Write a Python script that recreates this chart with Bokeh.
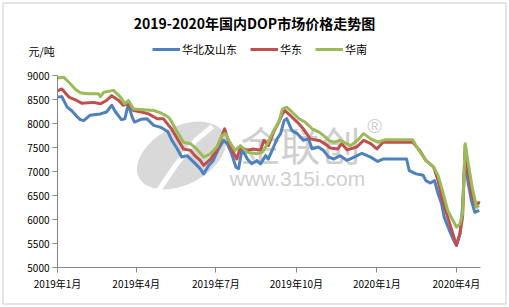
import pandas as pd
from bokeh.plotting import figure
from bokeh.models import (Range1d, FixedTicker, CustomJSTickFormatter, Label, Legend,
                          LegendItem, BoxAnnotation)
from bokeh.embed import file_html
from bokeh.resources import INLINE

# ---------------- data ----------------
title_text = "2019-2020年国内DOP市场价格走势图"
unit_text = "元/吨"
series_names = ["华北及山东", "华东", "华南"]
series_colors = ["#4F81BD", "#C0504D", "#9BBB59"]

tick_dates = ["2019-01-01", "2019-04-01", "2019-07-01", "2019-10-01", "2020-01-01", "2020-04-01"]
y_ticks = [5000, 5500, 6000, 6500, 7000, 7500, 8000, 8500, 9000]

north_dates = ["2019-01-01", "2019-01-06", "2019-01-12", "2019-01-17", "2019-01-23", "2019-01-27", "2019-01-31",
               "2019-02-07", "2019-02-19", "2019-02-26", "2019-03-04", "2019-03-08", "2019-03-15", "2019-03-19",
               "2019-03-23", "2019-03-27", "2019-03-30", "2019-04-07", "2019-04-13", "2019-04-21", "2019-04-29",
               "2019-05-02", "2019-05-07", "2019-05-12", "2019-05-18", "2019-05-23", "2019-05-29", "2019-06-06",
               "2019-06-13", "2019-06-17", "2019-06-23", "2019-06-28", "2019-07-04", "2019-07-10", "2019-07-14",
               "2019-07-19", "2019-07-24", "2019-07-27", "2019-07-31", "2019-08-06", "2019-08-11", "2019-08-17",
               "2019-08-21", "2019-08-27", "2019-08-30", "2019-09-05", "2019-09-09", "2019-09-13", "2019-09-17",
               "2019-09-20", "2019-09-26", "2019-10-02", "2019-10-09", "2019-10-15", "2019-10-19", "2019-10-26",
               "2019-11-01", "2019-11-07", "2019-11-13", "2019-11-20", "2019-11-28", "2019-12-06", "2019-12-15",
               "2019-12-25", "2020-01-02", "2020-01-08", "2020-02-04", "2020-02-07", "2020-02-15", "2020-02-23",
               "2020-02-26", "2020-03-02", "2020-03-07", "2020-03-11", "2020-03-15", "2020-03-18", "2020-03-24",
               "2020-03-28", "2020-04-01", "2020-04-05", "2020-04-08", "2020-04-11", "2020-04-14", "2020-04-18",
               "2020-04-22", "2020-04-27"]
north_vals = [8550, 8560, 8340, 8270, 8150, 8080, 8060, 8170, 8200, 8240, 8380, 8250, 8080, 8100, 8410, 8150,
              8030, 8090, 8100, 7960, 7920, 7890, 7830, 7640, 7470, 7300, 7330, 7190, 7060, 6950, 7130, 7230,
              7470, 7650, 7580, 7370, 7090, 7060, 7470, 7260, 7160, 7230, 7160, 7330, 7260, 7510, 7680, 7790,
              8060, 8100, 7850, 7790, 7650, 7680, 7470, 7510, 7440, 7300, 7260, 7330, 7230, 7300, 7380, 7300,
              7210, 7260, 7260, 7020, 6950, 6920, 6810, 6760, 6810, 6540, 6330, 6050, 5770, 5600, 5460, 5700,
              6260, 7400, 6810, 6400, 6150, 6190]

east_dates = ["2019-01-01", "2019-01-06", "2019-01-14", "2019-01-23", "2019-01-29", "2019-02-11", "2019-02-19",
              "2019-02-26", "2019-03-04", "2019-03-12", "2019-03-17", "2019-03-23", "2019-03-29", "2019-04-07",
              "2019-04-15", "2019-04-25", "2019-05-02", "2019-05-08", "2019-05-11", "2019-05-18", "2019-05-25",
              "2019-06-02", "2019-06-07", "2019-06-13", "2019-06-17", "2019-06-25", "2019-07-02", "2019-07-08",
              "2019-07-11", "2019-07-17", "2019-07-25", "2019-07-29", "2019-08-06", "2019-08-13", "2019-08-21",
              "2019-08-25", "2019-08-30", "2019-09-05", "2019-09-11", "2019-09-15", "2019-09-18", "2019-09-24",
              "2019-10-02", "2019-10-09", "2019-10-17", "2019-10-25", "2019-10-28", "2019-11-04", "2019-11-09",
              "2019-11-17", "2019-11-22", "2019-11-28", "2019-12-09", "2019-12-17", "2019-12-25", "2020-01-01",
              "2020-01-08", "2020-02-11", "2020-02-19", "2020-02-26", "2020-03-06", "2020-03-11", "2020-03-16",
              "2020-03-22", "2020-03-28", "2020-04-01", "2020-04-05", "2020-04-08", "2020-04-11", "2020-04-14",
              "2020-04-19", "2020-04-24", "2020-04-27"]
east_vals = [8680, 8720, 8550, 8480, 8420, 8440, 8410, 8480, 8580, 8480, 8380, 8410, 8270, 8240, 8200, 8100,
             8100, 7960, 7900, 7680, 7470, 7440, 7330, 7230, 7130, 7260, 7440, 7750, 7890, 7540, 7260, 7510,
             7440, 7470, 7440, 7650, 7540, 7820, 8030, 8200, 8270, 8170, 8030, 7890, 7680, 7650, 7640, 7560,
             7490, 7470, 7580, 7450, 7510, 7650, 7580, 7470, 7610, 7610, 7440, 7230, 7090, 6810, 6400, 6050,
             5700, 5460, 5700, 6050, 7540, 7020, 6470, 6260, 6380]

south_dates = ["2019-01-01", "2019-01-08", "2019-01-14", "2019-01-21", "2019-01-27", "2019-02-04", "2019-02-17",
               "2019-02-19", "2019-02-23", "2019-03-06", "2019-03-14", "2019-03-19", "2019-03-23", "2019-03-29",
               "2019-04-13", "2019-04-21", "2019-04-29", "2019-05-08", "2019-05-11", "2019-05-18", "2019-05-25",
               "2019-06-02", "2019-06-09", "2019-06-17", "2019-06-25", "2019-07-02", "2019-07-08", "2019-07-12",
               "2019-07-18", "2019-07-23", "2019-07-29", "2019-08-06", "2019-08-17", "2019-08-23", "2019-08-29",
               "2019-09-05", "2019-09-11", "2019-09-15", "2019-09-20", "2019-09-26", "2019-10-04", "2019-10-11",
               "2019-10-19", "2019-10-27", "2019-11-03", "2019-11-07", "2019-11-13", "2019-11-20", "2019-12-02",
               "2019-12-10", "2019-12-17", "2019-12-25", "2020-01-02", "2020-01-10", "2020-02-11", "2020-02-17",
               "2020-02-26", "2020-03-06", "2020-03-11", "2020-03-16", "2020-03-22", "2020-03-28", "2020-04-01",
               "2020-04-05", "2020-04-08", "2020-04-11", "2020-04-14", "2020-04-19", "2020-04-24", "2020-04-27"]
south_vals = [8950, 8965, 8860, 8720, 8640, 8620, 8620, 8560, 8650, 8690, 8550, 8410, 8480, 8300, 8280, 8270,
              8220, 8130, 8050, 7820, 7610, 7580, 7470, 7300, 7370, 7510, 7750, 7790, 7580, 7440, 7540, 7400,
              7370, 7400, 7580, 7850, 8030, 8300, 8340, 8240, 8100, 8030, 7890, 7820, 7720, 7650, 7610, 7650,
              7540, 7650, 7790, 7680, 7610, 7660, 7660, 7470, 7230, 7090, 6920, 6600, 6190, 5980, 5840, 5910,
              6120, 7580, 7230, 6670, 6260, 6290]

# ---------------- geometry ----------------
W, H = 509, 307
AL, AR, AT, AB = 57, 480, 75, 267  # axis box in canvas pixels
x_start = pd.Timestamp("2019-01-01")
x_end = pd.Timestamp("2020-04-28 12:00")
y_min, y_max = 5000, 9000

span = x_end - x_start
x_lo = x_start - span * (AL / (AR - AL))
x_hi = x_end + span * ((W - AR) / (AR - AL))
y_lo = y_min - (y_max - y_min) * ((H - AB) / (AB - AT))
y_hi = y_max + (y_max - y_min) * (AT / (AB - AT))

p = figure(width=W, height=H, x_axis_type="datetime", output_backend="svg", toolbar_location=None,
           x_range=Range1d(x_lo, x_hi), y_range=Range1d(y_lo, y_hi),
           min_border_left=0, min_border_right=0, min_border_top=0, min_border_bottom=0)
p.outline_line_color = None
p.xgrid.visible = False
p.ygrid.visible = False
p.background_fill_color = "white"
p.border_fill_color = "white"

FONT = "Noto Sans CJK SC"
for ax in (p.xaxis[0], p.yaxis[0]):
    ax.axis_line_color = "#868686"
    ax.major_tick_line_color = "#868686"
    ax.minor_tick_line_color = None
    ax.major_tick_in = 0
    ax.major_tick_out = 5
    ax.major_label_text_font = FONT
    ax.major_label_text_font_size = "10px"
    ax.major_label_text_color = "#000000"
    ax.major_label_standoff = 3

p.xaxis[0].ticker = FixedTicker(ticks=[pd.Timestamp(d).value // 10**6 for d in tick_dates])
p.xaxis[0].formatter = CustomJSTickFormatter(
    code="const d = new Date(tick); return d.getUTCFullYear() + '年' + (d.getUTCMonth() + 1) + '月';")
p.xaxis[0].bounds = (x_start.value / 1e6, x_end.value / 1e6)
p.xaxis[0].fixed_location = y_min
p.yaxis[0].ticker = FixedTicker(ticks=y_ticks)
p.yaxis[0].bounds = (y_min, y_max)
p.yaxis[0].fixed_location = x_start.value / 1e6


def sx(px):
    return x_lo + (x_hi - x_lo) * (px / W)


def sy(py):
    return y_lo + (y_hi - y_lo) * ((H - py) / H)


# ---------------- watermark ----------------
p.ellipse(x=[sx(181)], y=[sy(155)], width=[96], height=[58], width_units="screen", height_units="screen",
          angle=0.48, fill_color="#d9d9d9", line_color=None, level="underlay")
p.line(x=[sx(158), sx(175), sx(195), sx(212)], y=[sy(190), sy(165), sy(140), sy(126)],
       line_color="white", line_width=5, level="underlay")
for txt, cx, cy, fs, fnt in [("金联创", 300, 143, "40px", FONT), ("®", 374, 125, "20px", "Liberation Sans"),
                             ("www.315i.com", 297, 178, "21px", "Liberation Sans")]:
    p.add_layout(Label(x=cx, y=H - cy, x_units="screen", y_units="screen", text=txt,
                       text_align="center", text_baseline="middle", text_font=fnt,
                       text_font_size=fs, text_color="#cfcfcf", level="underlay"))

# ---------------- series ----------------
renderers = []
for dates, vals, col in [(north_dates, north_vals, series_colors[0]),
                         (east_dates, east_vals, series_colors[1]),
                         (south_dates, south_vals, series_colors[2])]:
    r = p.line(x=pd.to_datetime(dates), y=vals, line_color=col, line_width=3, line_join="round")
    renderers.append(r)

legend = Legend(items=[LegendItem(label=n, renderers=[r]) for n, r in zip(series_names, renderers)],
                orientation="horizontal", location=(152, H - 57), padding=0, margin=0, spacing=13,
                glyph_width=28, glyph_height=12, label_height=12, label_standoff=2,
                label_text_font=FONT, label_text_font_size="11px", label_text_color="#000000",
                border_line_color=None, background_fill_alpha=0)
p.add_layout(legend)

# ---------------- texts ----------------
p.add_layout(Label(x=254, y=H - 22, x_units="screen", y_units="screen", text=title_text,
                   text_align="center", text_baseline="middle", text_font=FONT, text_font_size="14px",
                   text_font_style="bold", text_color="#000000"))
p.add_layout(Label(x=28, y=H - 50, x_units="screen", y_units="screen", text=unit_text,
                   text_align="left", text_baseline="middle", text_font=FONT, text_font_size="11px",
                   text_color="#000000"))

# outer border
p.add_layout(BoxAnnotation(left=2.5, right=505.5, top=H - 2.5, bottom=H - 303.5,
                           left_units="screen", right_units="screen", top_units="screen", bottom_units="screen",
                           fill_alpha=0, line_color="#8c8c8c", line_width=1.5))

open("out.html", "w").write(file_html(p, INLINE))
